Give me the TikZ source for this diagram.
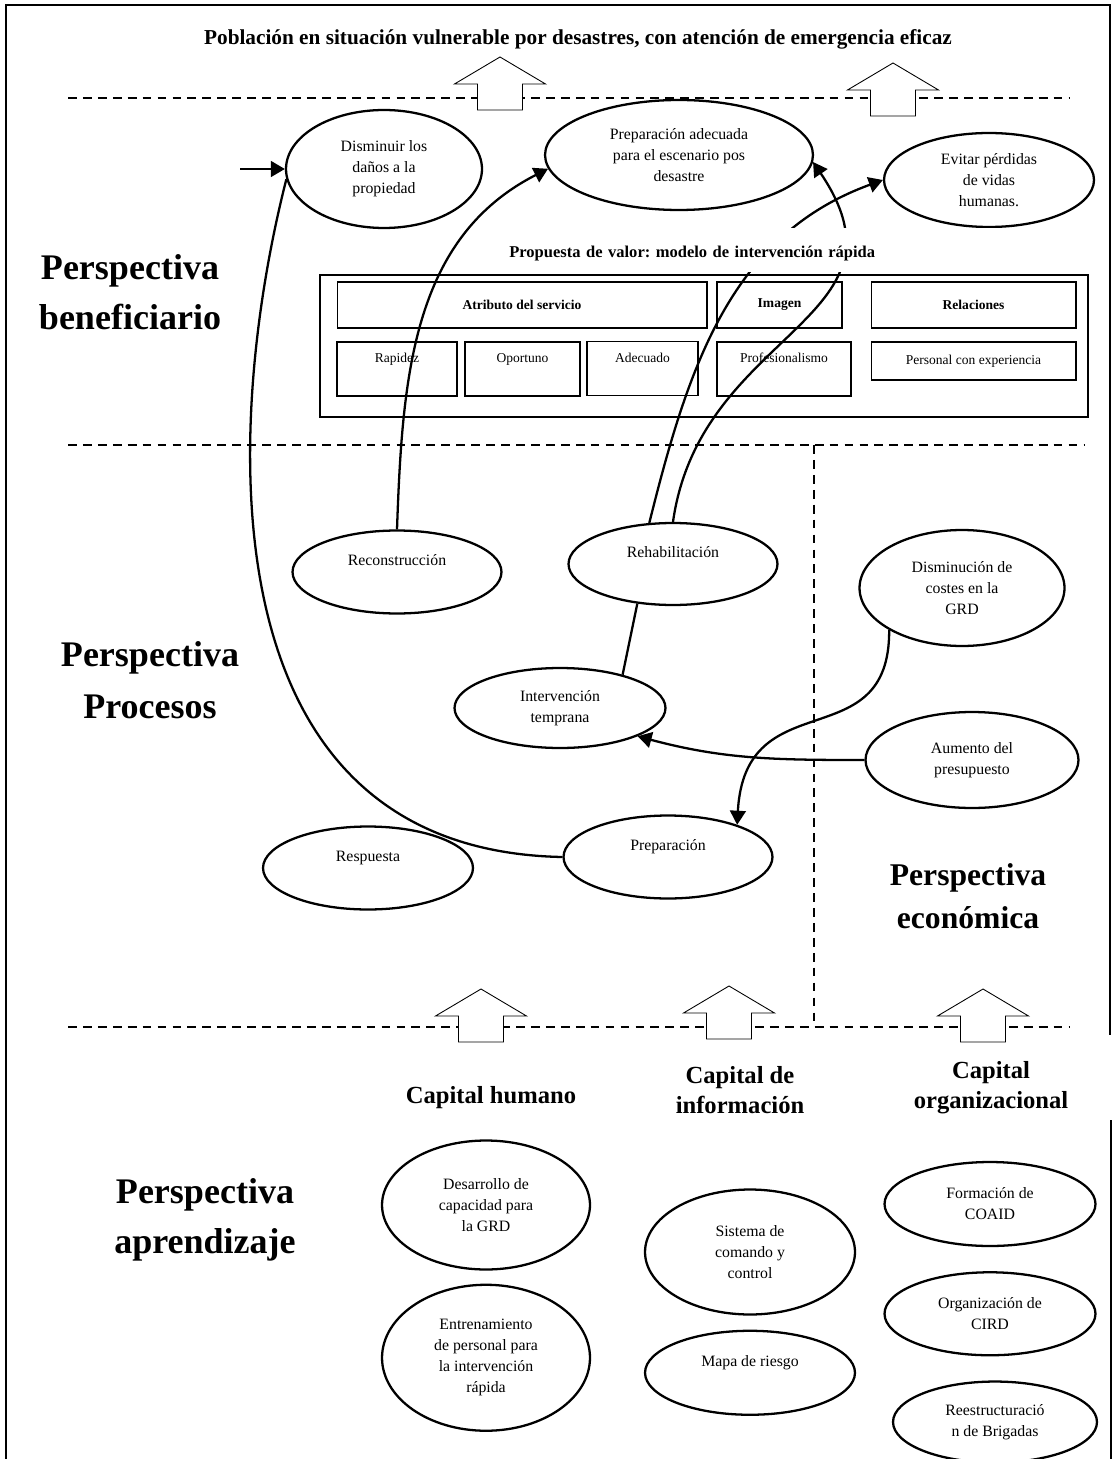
\documentclass[tikz,border=0pt]{standalone}
\usepackage{fontspec}
\setmainfont{Liberation Serif}
\usetikzlibrary{arrows.meta,positioning,shapes.geometric}

\tikzset{
  oval/.style={draw, ellipse, line width=1.3pt, inner sep=0pt, align=center,
    font=\fontsize{9}{12}\selectfont},
  toptext/.style={text height=7pt, text depth=14pt},
  hdrbox/.style={draw, line width=0.6pt, inner sep=0pt, minimum height=0.92cm,
    font=\bfseries\fontsize{7.7}{9}\selectfont},
  itembox/.style={draw, line width=0.6pt, inner sep=0pt, minimum height=1.08cm,
    text height=6pt, text depth=13pt, font=\fontsize{7.7}{9}\selectfont},
  persp/.style={align=center, font=\bfseries\fontsize{20.5}{28.5}\selectfont},
  capital/.style={align=center, font=\bfseries\fontsize{14}{17}\selectfont},
  guide/.style={line width=0.8pt, dash pattern=on 5pt off 3.5pt},
  flow/.style={line width=1.3pt, -{Triangle[length=8pt,width=9pt]}},
  link/.style={line width=1.3pt},
  uparrow/.pic={
    \draw[line width=0.5pt, fill=white] (-22.5,0) -- (-22.5,-26) -- (-45.5,-26)
      -- (0,-53) -- (45.5,-26) -- (22.5,-26) -- (22.5,0) -- cycle;
  }
}

\begin{document}
\frenchspacing
\begin{tikzpicture}[x=0.02cm, y=-0.02cm]
  \useasboundingbox (0,0) rectangle (1113,1459);

  % Frame and guide lines
  \draw[line width=0.8pt] (6,1459) -- (6,5) -- (1110,5) -- (1110,1035);
  \draw[line width=0.8pt] (1111,1120) -- (1111,1459);
  \draw[guide] (68,98) -- (1070,98);
  \draw[guide] (68,445) -- (1085,445);
  \draw[guide] (68,1027) -- (1070,1027);
  \draw[guide] (814,445) -- (814,1027);

  \pic at (500,110) {uparrow};
  \pic at (893,116) {uparrow};
  \pic at (481,1042) {uparrow};
  \pic at (729,1039) {uparrow};
  \pic at (983,1042) {uparrow};

  % Titles
  \node[anchor=base, font=\bfseries\fontsize{12.1}{14}\selectfont] (titulo) at (578,45)
    {Población en situación vulnerable por desastres, con atención de emergencia eficaz};
  \node[persp] (pbenef) at (130,292) {Perspectiva\\beneficiario};
  \node[persp, font=\bfseries\fontsize{20.5}{29.5}\selectfont] (pproc) at (150,680) {Perspectiva\\Procesos};
  \node[persp] (paprend) at (205,1220) {Perspectiva\\aprendizaje};
  \node[persp, font=\bfseries\fontsize{18}{24.5}\selectfont] (pecon) at (968,896) {Perspectiva\\económica};
  \node[capital, anchor=base] (chum) at (491,1103) {Capital humano};
  \node[capital] (cinfo) at (740,1090) {Capital de\\información};
  \node[capital] (corg) at (991,1088) {Capital\\organizacional};

  % Beneficiary goals
  \node[oval, minimum width=3.92cm, minimum height=2.36cm] (dano) at (384,169)
    {Disminuir los\\daños a la\\propiedad};
  \node[oval, minimum width=5.36cm, minimum height=2.2cm] (adec) at (679,155)
    {Preparación adecuada\\para el escenario pos\\desastre};
  \node[oval, minimum width=4.2cm, minimum height=1.88cm] (vidas) at (989,180)
    {Evitar pérdidas\\de vidas\\humanas.};
  \coordinate (stub) at (240,169);

  % Value proposition
  \draw[line width=0.6pt] (320,275) rectangle (1088,417);
  \node[hdrbox, minimum width=7.4cm] (atrib) at (522,305) {Atributo del servicio};
  \node[hdrbox, minimum width=2.5cm] (imagen) at (779.5,305) {Imagen};
  \node[hdrbox, minimum width=4.1cm] (relac) at (973.5,305) {Relaciones};
  \node[itembox, minimum width=2.4cm] (rapidez) at (397,369) {Rapidez};
  \node[itembox, minimum width=2.3cm] (oportuno) at (522.5,369) {Oportuno};
  \node[itembox, minimum width=2.22cm] (adecuado) at (642.5,368.5) {Adecuado};
  \node[itembox, minimum width=2.68cm] (profes) at (784,369) {Profesionalismo};
  \node[itembox, minimum width=4.1cm, minimum height=0.76cm, text height=, text depth=] (personal) at (973.5,361)
    {Personal con experiencia};

  % Processes
  \node[oval, toptext, minimum width=4.18cm, minimum height=1.66cm] (recon) at (397,572) {Reconstrucción};
  \node[oval, toptext, minimum width=4.18cm, minimum height=1.64cm] (rehab) at (673,564) {Rehabilitación};
  \node[oval, minimum width=4.22cm, minimum height=1.6cm] (interv) at (560,708) {Intervención\\temprana};
  \node[oval, toptext, minimum width=4.2cm, minimum height=1.66cm] (resp) at (368,868) {Respuesta};
  \node[oval, toptext, minimum width=4.18cm, minimum height=1.66cm] (prep) at (668,857) {Preparación};
  \node[oval, minimum width=4.1cm, minimum height=2.32cm] (costes) at (962,588)
    {Disminución de\\costes en la\\GRD};
  \node[oval, minimum width=4.26cm, minimum height=1.92cm] (aumento) at (972,760)
    {Aumento del\\presupuesto};

  % Learning
  \node[oval, minimum width=4.16cm, minimum height=2.58cm] (desarrollo) at (486,1205)
    {Desarrollo de\\capacidad para\\la GRD};
  \node[oval, minimum width=4.16cm, minimum height=2.92cm, below=0.26cm of desarrollo] (entrena)
    {Entrenamiento\\de personal para\\la intervención\\rápida};
  \node[oval, minimum width=4.2cm, minimum height=2.5cm] (sistema) at (750,1252)
    {Sistema de\\comando y\\control};
  \node[oval, toptext, minimum width=4.2cm, minimum height=1.68cm, below=0.28cm of sistema] (mapa)
    {Mapa de riesgo};
  \node[oval, minimum width=4.22cm, minimum height=1.68cm] (coaid) at (990,1204)
    {Formación de\\COAID};
  \node[oval, minimum width=4.22cm, minimum height=1.66cm, below=0.48cm of coaid] (cird)
    {Organización de\\CIRD};
  \node[oval, minimum width=4.08cm, minimum height=1.62cm, below=0.48cm of cird, xshift=0.1cm] (brigadas)
    {Reestructuració\\n de Brigadas};

  % Connect the nodes
  \draw[flow] (stub) -- (dano.west);
  \draw[link] (prep.west) .. controls (200,850) and (225,420) .. (dano.186);
  \draw[flow] (recon.north) to[out=88, in=207] (adec.186);
  \draw[flow] (rehab.120) to[out=76, in=200] (vidas.west);
  \draw[flow] (rehab.north) .. controls (700,330) and (920,320) .. (adec.-3);
  \draw[link] (rehab.-132) -- (interv.28);
  \draw[flow] (costes.210) .. controls (890,760) and (745,680) .. (prep.25);
  \draw[flow] (aumento.west) to[out=180, in=-15] (interv.-20);

  \node[fill=white, anchor=west, minimum height=0.88cm, text width=11.6cm, inner xsep=0.18cm,
    inner ysep=0pt, text height=10pt, text depth=1pt, font=\bfseries\fontsize{9.4}{11}\selectfont]
    (propuesta) at (500,250) {Propuesta de valor: modelo de intervención rápida};
\end{tikzpicture}
\end{document}
